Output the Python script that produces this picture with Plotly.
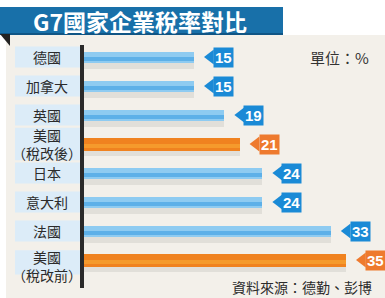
import plotly.graph_objects as go

# ---- data ----
categories = ["德國", "加拿大", "英國", "美國（稅改後）", "日本", "意大利", "法國", "美國（稅改前）"]
labels = ["德國", "加拿大", "英國", "美國<br>（稅改後）", "日本", "意大利", "法國", "美國<br>（稅改前）"]
rates = [15, 15, 19, 21, 24, 24, 33, 35]
title_text = "G7國家企業稅率對比"
unit_text = "單位：%"
source_text = "資料來源：德勤、彭博"

W, H = 385, 298
X0 = 80          # px where bars start
PX_PER_UNIT = 7.6
FONT = "Noto Sans CJK TC"

is_us = ["稅改" in c for c in categories]
two_line = ["<br>" in l for l in labels]
main_col = ["#f0821f" if u else "#8ecbf1" for u in is_us]
stripe_col = ["#f59a2c" if u else "#5db0e8" for u in is_us]
tag_col = ["#ee7a2e" if u else "#1a8ad6" for u in is_us]
bar_w = [0.42 if u else 0.36 for u in is_us]

fig = go.Figure()

# shadow
fig.add_trace(go.Bar(y=categories, x=rates, orientation="h", width=0.42, offset=-0.02,
                     marker=dict(color="rgba(0,0,0,0.07)", line_width=0),
                     hoverinfo="skip", showlegend=False))
# main bars
fig.add_trace(go.Bar(y=categories, x=rates, orientation="h", width=bar_w,
                     offset=[-w / 2 for w in bar_w],
                     marker=dict(color=main_col, line_width=0), showlegend=False))
# stripe (gradient-ish)
fig.add_trace(go.Bar(y=categories, x=rates, orientation="h", width=0.14,
                     offset=[-0.02 for _ in bar_w],
                     marker=dict(color=stripe_col, line_width=0),
                     hoverinfo="skip", showlegend=False))

# tag arrows
gap_px = 9
fig.add_trace(go.Scatter(y=categories, x=[r + (gap_px + 7.5) / PX_PER_UNIT for r in rates],
                         mode="markers",
                         marker=dict(symbol="triangle-left", size=13, color=tag_col, line_width=0),
                         hoverinfo="skip", showlegend=False, cliponaxis=False))

annotations = []
shapes = [
    # cream background
    dict(type="rect", xref="paper", yref="paper", x0=6 / W, x1=1, y0=0, y1=1 - 35 / H,
         fillcolor="#f3f0ea", line_width=0, layer="below"),
    # title bar
    dict(type="rect", xref="paper", yref="paper", x0=0, x1=283 / W, y0=1 - 35 / H, y1=1 - 7 / H,
         fillcolor="#1870a9", line_width=0, layer="below"),
    dict(type="rect", xref="paper", yref="paper", x0=0, x1=283 / W, y0=1 - 35 / H, y1=1 - 33 / H,
         fillcolor="#0f5585", line_width=0, layer="below"),
    # corner fold
    dict(type="path", xref="paper", yref="paper",
         path=f"M 0,{1 - 34 / H} L {10 / W},{1 - 34 / H} L {10 / W},{1 - 46 / H} Z",
         fillcolor="#222222", line_width=0),
]

n = len(categories)
for i, (c, r, col) in enumerate(zip(categories, rates, tag_col)):
    annotations.append(dict(x=r, y=c, xref="x", yref="y", text=f"<b>{r}</b>", showarrow=False,
                            xanchor="left", yanchor="middle", xshift=gap_px + 10,
                            bgcolor=col, borderpad=1,
                            font=dict(family="Liberation Sans, Arial", size=15, color="white")))

for i, (c, lab, tl) in enumerate(zip(categories, labels, two_line)):
    shift_units = 0.22 if (tl and i == n - 1) else 0.0
    half = 0.56 if tl else 0.36
    shapes.append(dict(type="rect", xref="paper", yref="y", x0=15 / W, x1=80 / W,
                       y0=i + shift_units - half, y1=i + shift_units + half,
                       fillcolor="#dcecf8", line_width=0, layer="below"))
    annotations.append(dict(x=47 / W, y=c, xref="paper", yref="y", text=lab, showarrow=False,
                            xanchor="center", yanchor="middle", align="center",
                            yshift=-shift_units * 29,
                            font=dict(family=FONT, size=14, color="#2b2b2b")))

annotations.append(dict(x=31 / W, y=1 - 21 / H, xref="paper", yref="paper", text=f"<b>{title_text}</b>",
                        showarrow=False, xanchor="left", yanchor="middle",
                        font=dict(family=FONT, size=23, color="white")))
annotations.append(dict(x=371 / W, y=1 - 57 / H, xref="paper", yref="paper", text=unit_text,
                        showarrow=False, xanchor="right", yanchor="middle",
                        font=dict(family=FONT, size=15, color="#333333")))
annotations.append(dict(x=373 / W, y=0, xref="paper", yref="paper", text=source_text,
                        showarrow=False, xanchor="right", yanchor="bottom", borderpad=0,
                        font=dict(family=FONT, size=14, color="#2b2b2b")))

# axis line
shapes.append(dict(type="line", xref="paper", yref="paper", x0=82 / W, x1=82 / W,
                   y0=1 - 288 / H, y1=1 - 45 / H, line=dict(color="#2a2a2a", width=4)))

fig.update_layout(
    width=W, height=H, margin=dict(l=0, r=0, t=0, b=0),
    paper_bgcolor="white", plot_bgcolor="rgba(0,0,0,0)",
    barmode="overlay", bargap=0,
    xaxis=dict(domain=[X0 / W, 1], range=[0, (W - X0) / PX_PER_UNIT], visible=False, fixedrange=True),
    yaxis=dict(domain=[(H - 274.5) / H, (H - 42.5) / H], range=[7.5, -0.5], type="category",
               categoryorder="array", categoryarray=categories, visible=False),
    annotations=annotations, shapes=shapes,
)

fig.write_html("out.html")
